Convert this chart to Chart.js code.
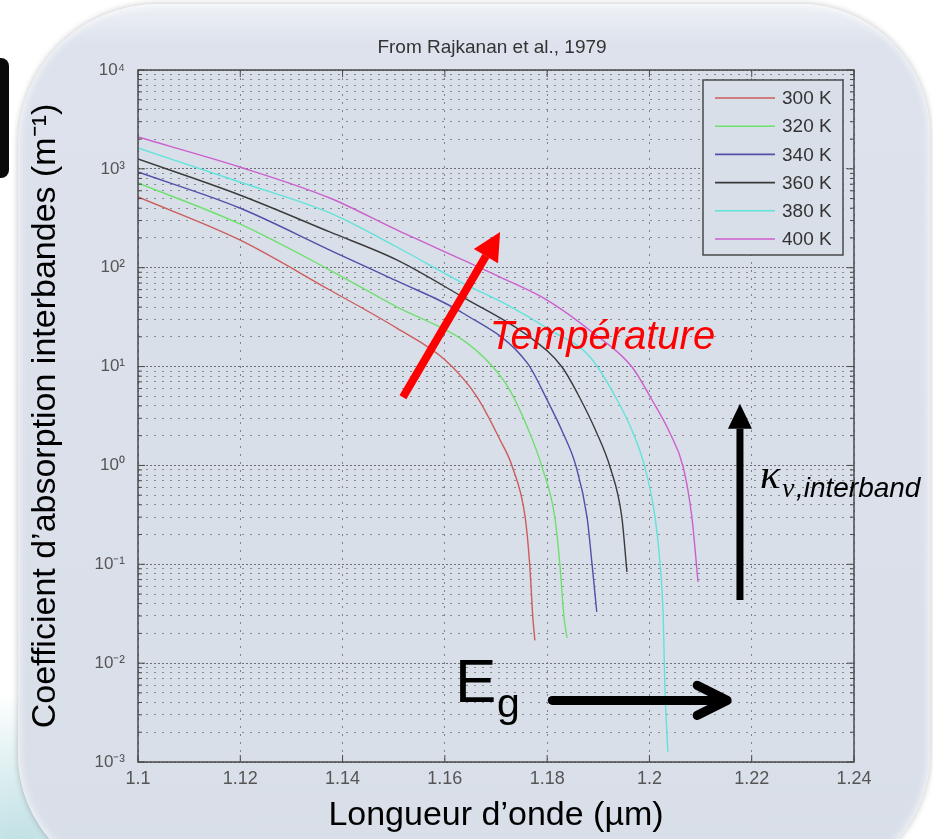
<!DOCTYPE html>
<html>
<head>
<meta charset="utf-8">
<title>Coefficient d'absorption interbandes</title>
<script src="https://cdn.jsdelivr.net/npm/chart.js@4.4.0/dist/chart.umd.min.js"></script>
<style>
  body { margin: 0; background: #fff; width: 933px; height: 839px; overflow: hidden; position: relative; }
  .glow { position: absolute; left: -60px; top: 690px; width: 260px; height: 220px;
          background: radial-gradient(ellipse at 30% 70%, #bfe0e4 0%, rgba(220,238,240,0) 70%); }
  .panel { position: absolute; left: 18px; top: 4px; width: 912px; height: 880px;
           border-radius: 140px 130px 130px 130px;
           background: linear-gradient(#eef1f6 0, #dde2ec 40px, #d9dfe9 100%);
           box-shadow: 0 0 6px rgba(0,0,0,.25), inset 0 0 10px rgba(255,255,255,.9); }
  .tab { position: absolute; left: 0; top: 58px; width: 9px; height: 120px; background: #0a0a0a; border-radius: 0 8px 8px 0; }
  canvas { position: absolute; left: 0; top: 0; }
</style>
</head>
<body>
<div class="glow"></div>
<div class="panel"></div>
<div class="tab"></div>
<canvas id="absChart" width="933" height="839"></canvas>
<script>
// values: wavelength (µm) and absorption coefficient (m^-1)
const temps = ['300 K', '320 K', '340 K', '360 K', '380 K', '400 K'];

const lambda300 = [1.1000, 1.1199, 1.1375, 1.1506, 1.1600, 1.1663, 1.1708, 1.1731, 1.1757, 1.1766, 1.1772, 1.1776];
const alpha300  = [519, 191, 59.5, 24.5, 11.7, 4.92, 1.81, 1.0, 0.30, 0.098, 0.029, 0.017];

const lambda320 = [1.1000, 1.1199, 1.1375, 1.1506, 1.1635, 1.1694, 1.1727, 1.1766, 1.1790, 1.1815, 1.1825, 1.1833, 1.1839];
const alpha320  = [719, 277, 94.8, 40.1, 18.6, 9.9, 5.79, 2.13, 0.964, 0.30, 0.098, 0.029, 0.018];

const lambda340 = [1.1000, 1.1199, 1.1375, 1.1506, 1.1635, 1.1761, 1.1800, 1.1831, 1.1856, 1.1878, 1.1888, 1.1897];
const alpha340  = [929, 402, 151, 73.4, 34.8, 10.9, 4.59, 2.13, 1.0, 0.30, 0.098, 0.033];

const lambda360 = [1.1000, 1.1199, 1.1375, 1.1506, 1.1635, 1.1766, 1.1829, 1.1864, 1.1897, 1.1923, 1.1946, 1.1956];
const alpha360  = [1259, 544, 230, 120, 50.5, 19.9, 9.9, 4.81, 2.13, 0.964, 0.30, 0.0835];

const lambda380 = [1.1000, 1.1199, 1.1375, 1.1506, 1.1635, 1.1722, 1.1806, 1.1884, 1.1937, 1.1968, 1.1991, 1.2011, 1.2021, 1.2027, 1.2030, 1.2036];
const alpha380  = [1625, 736, 358, 162, 70, 42, 23.4, 12.5, 4.59, 2.13, 0.964, 0.30, 0.098, 0.029, 0.0063, 0.00126];

const lambda400 = [1.1000, 1.1199, 1.1375, 1.1506, 1.1635, 1.1708, 1.1800, 1.1890, 1.1966, 1.2005, 1.2040, 1.2066, 1.2083, 1.2095];
const alpha400  = [2100, 1045, 507, 241, 120, 80.5, 47.1, 21.9, 9.9, 4.59, 2.13, 0.964, 0.30, 0.0662];

const xTickValues = [1.1, 1.12, 1.14, 1.16, 1.18, 1.2, 1.22, 1.24];
const yDecades = [-3, -2, -1, 0, 1, 2, 3, 4];

const lambdas = [lambda300, lambda320, lambda340, lambda360, lambda380, lambda400];
const alphas = [alpha300, alpha320, alpha340, alpha360, alpha380, alpha400];
const colors = ['#cd5c5c', '#6ee06e', '#5050a8', '#3a3a3a', '#5fe3dc', '#cc5fcc'];

// log ticks: 1..9 x each decade, plus the top decade
const yTicks = [];
yDecades.forEach(d => {
    if (d === yDecades[yDecades.length - 1]) { yTicks.push(Math.pow(10, d)); return; }
    for (let m = 1; m <= 9; m++) yTicks.push(m * Math.pow(10, d));
});

const isDecade = v => Math.abs(Math.log10(v) - Math.round(Math.log10(v))) < 1e-9;
const SUP = { '-': '\u207B', '0': '\u2070', '1': '\u00B9', '2': '\u00B2', '3': '\u00B3', '4': '\u2074' };
const sup = n => String(n).split('').map(c => SUP[c]).join('');

const FONT = '"Liberation Sans", Arial, sans-serif';
const PLOT_BG = '#d9dfe9';
const FRAME = '#4a4a4a';

// annotation anchors, in data units
const notes = {
    tempArrow: [[1.1518, 4.9], [1.1708, 230]],
    tempText: [1.1688, 15],
    kappaArrow: [[1.2177, 0.0435], [1.2177, 4.2]],
    kappaText: [1.2216, 0.59],
    gapArrow: [[1.1810, 0.0042], [1.2152, 0.0042]],
    gapText: [1.1620, 0.0040]
};

function filledArrow(ctx, x1, y1, x2, y2, w, headLen, headW, color) {
    const a = Math.atan2(y2 - y1, x2 - x1);
    const bx = x2 - headLen * Math.cos(a), by = y2 - headLen * Math.sin(a);
    ctx.strokeStyle = color;
    ctx.lineWidth = w;
    ctx.lineCap = 'butt';
    ctx.beginPath(); ctx.moveTo(x1, y1); ctx.lineTo(bx, by); ctx.stroke();
    ctx.fillStyle = color;
    ctx.beginPath();
    ctx.moveTo(x2, y2);
    ctx.lineTo(bx + headW / 2 * Math.sin(a), by - headW / 2 * Math.cos(a));
    ctx.lineTo(bx - headW / 2 * Math.sin(a), by + headW / 2 * Math.cos(a));
    ctx.closePath(); ctx.fill();
}

const overlay = {
    id: 'overlay',
    beforeDraw(chart) {
        const { ctx, chartArea: a } = chart;
        ctx.save();
        ctx.fillStyle = PLOT_BG;
        ctx.fillRect(a.left, a.top, a.width, a.height);
        ctx.restore();
    },
    afterDatasetsDraw(chart) {
        const { ctx, chartArea: a } = chart;
        const xs = chart.scales.x, ys = chart.scales.y;
        const X = v => xs.getPixelForValue(v), Y = v => ys.getPixelForValue(v);
        ctx.save();

        // frame + inward ticks
        ctx.strokeStyle = FRAME;
        ctx.lineWidth = 1.5;
        ctx.strokeRect(a.left, a.top, a.width, a.height);
        ctx.lineWidth = 1;
        ctx.beginPath();
        xTickValues.forEach(v => {
            const px = X(v);
            ctx.moveTo(px, a.bottom); ctx.lineTo(px, a.bottom - 7);
            ctx.moveTo(px, a.top); ctx.lineTo(px, a.top + 7);
        });
        yTicks.forEach(v => {
            const py = Y(v), len = isDecade(v) ? 7 : 4;
            ctx.moveTo(a.left, py); ctx.lineTo(a.left + len, py);
            ctx.moveTo(a.right, py); ctx.lineTo(a.right - len, py);
        });
        ctx.stroke();

        // title
        ctx.fillStyle = '#333';
        ctx.font = '19px ' + FONT;
        ctx.textAlign = 'center';
        ctx.textBaseline = 'alphabetic';
        ctx.fillText('From Rajkanan et al., 1979', (a.left + a.right) / 2 - 4, a.top - 17);

        // legend inside the axes, top right
        const lw = 140, lh = 175, lx = a.right - 11 - lw, ly = a.top + 10;
        ctx.fillStyle = PLOT_BG;
        ctx.fillRect(lx, ly, lw, lh);
        ctx.strokeStyle = FRAME;
        ctx.lineWidth = 1.5;
        ctx.strokeRect(lx, ly, lw, lh);
        ctx.font = '19px ' + FONT;
        ctx.textAlign = 'left';
        ctx.textBaseline = 'middle';
        chart.data.datasets.forEach((ds, i) => {
            const ry = ly + 18 + i * 28.2;
            ctx.strokeStyle = ds.borderColor;
            ctx.lineWidth = 1.6;
            ctx.beginPath(); ctx.moveTo(lx + 12, ry); ctx.lineTo(lx + 72, ry); ctx.stroke();
            ctx.fillStyle = '#333';
            ctx.fillText(ds.label, lx + 79, ry + 1);
        });

        // Température arrow and label
        const ta = notes.tempArrow;
        filledArrow(ctx, X(ta[0][0]), Y(ta[0][1]), X(ta[1][0]), Y(ta[1][1]), 8, 28, 28, '#ff0000');
        ctx.fillStyle = '#ff0000';
        ctx.textBaseline = 'alphabetic';
        ctx.font = 'italic 40px ' + FONT;
        ctx.fillText('Température', X(notes.tempText[0]), Y(notes.tempText[1]));

        // kappa arrow and label
        const ka = notes.kappaArrow;
        filledArrow(ctx, X(ka[0][0]), Y(ka[0][1]), X(ka[1][0]), Y(ka[1][1]), 7, 25, 24, '#000');
        const kx = X(notes.kappaText[0]), ky = Y(notes.kappaText[1]);
        ctx.fillStyle = '#000';
        ctx.font = 'italic 42px "Liberation Serif", "Times New Roman", serif';
        ctx.fillText('\u03BA', kx, ky);
        ctx.font = 'italic 28px "Liberation Serif", "Times New Roman", serif';
        ctx.fillText('\u03BD', kx + 22, ky + 9);
        ctx.font = 'italic 28px ' + FONT;
        ctx.fillText(',interband', kx + 36, ky + 9);

        // band gap arrow (open head) and label
        const ga = notes.gapArrow;
        const gx1 = X(ga[0][0]), gx2 = X(ga[1][0]), gy = Y(ga[0][1]);
        ctx.strokeStyle = '#000';
        ctx.lineWidth = 9;
        ctx.lineCap = 'round';
        ctx.lineJoin = 'round';
        ctx.beginPath(); ctx.moveTo(gx1, gy); ctx.lineTo(gx2 - 3, gy); ctx.stroke();
        ctx.beginPath(); ctx.moveTo(gx2 - 30, gy - 15); ctx.lineTo(gx2, gy); ctx.lineTo(gx2 - 30, gy + 15); ctx.stroke();
        const ex = X(notes.gapText[0]), ey = Y(notes.gapText[1]);
        ctx.font = '62px ' + FONT;
        ctx.fillText('E', ex, ey);
        ctx.font = '41px ' + FONT;
        ctx.fillText('g', ex + 42, ey + 15);

        ctx.restore();
    }
};

const ctxAbs = document.getElementById('absChart').getContext('2d');
const absChart = new Chart(ctxAbs, {
    type: 'line',
    data: {
        datasets: temps.map((t, i) => ({
            label: t,
            data: lambdas[i].map((x, j) => ({ x: x, y: alphas[i][j] })),
            borderColor: colors[i],
            backgroundColor: colors[i],
            borderWidth: 1.4,
            borderJoinStyle: 'round',
            pointRadius: 0,
            fill: false,
            cubicInterpolationMode: 'monotone'
        }))
    },
    options: {
        responsive: false,
        animation: false,
        layout: { padding: { left: 0, top: 70, right: 79, bottom: 0 } },
        plugins: {
            legend: { display: false },
            tooltip: { enabled: false }
        },
        scales: {
            x: {
                type: 'linear',
                min: 1.1,
                max: 1.24,
                afterBuildTicks: s => { s.ticks = xTickValues.map(v => ({ value: v })); },
                afterFit: s => { s.height = 77; },
                ticks: {
                    callback: v => String(+v.toFixed(2)),
                    font: { family: FONT, size: 18 },
                    color: '#555',
                    padding: 6,
                    maxRotation: 0,
                    autoSkip: false
                },
                grid: { color: '#7d828c', lineWidth: 1, drawTicks: false },
                border: { display: false, dash: [2, 6] },
                title: {
                    display: true,
                    text: 'Longueur d\u2019onde (\u00B5m)',
                    font: { family: FONT, size: 34 },
                    color: '#000',
                    padding: { top: 0, bottom: 3 }
                }
            },
            y: {
                type: 'logarithmic',
                min: 1e-3,
                max: 1e4,
                afterBuildTicks: s => { s.ticks = yTicks.map(v => ({ value: v })); },
                afterFit: s => { s.width = 138; },
                ticks: {
                    callback: v => isDecade(v) ? '10' + sup(Math.round(Math.log10(v))) : '',
                    font: { family: FONT, size: 17 },
                    color: '#555',
                    padding: 13,
                    autoSkip: false
                },
                grid: {
                    color: c => (c.tick && isDecade(c.tick.value)) ? '#6a6f78' : '#858a93',
                    lineWidth: 1,
                    drawTicks: false
                },
                border: {
                    display: false,
                    dash: c => (c.tick && isDecade(c.tick.value)) ? [2, 2] : [2, 6]
                },
                title: {
                    display: true,
                    text: 'Coefficient d\u2019absorption interbandes (m\u207B\u00B9)',
                    font: { family: FONT, size: 34 },
                    color: '#000',
                    padding: { top: 25, bottom: 0 }
                }
            }
        }
    },
    plugins: [overlay]
});
</script>
</body>
</html>
